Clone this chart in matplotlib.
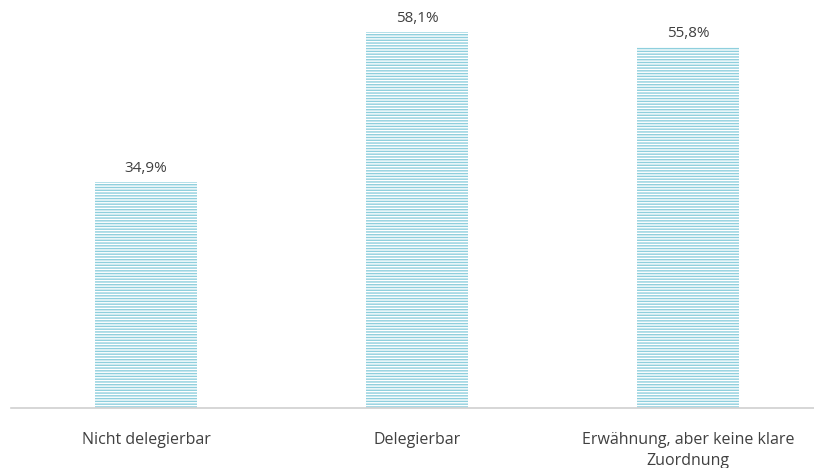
import matplotlib
matplotlib.use("Agg")
import matplotlib.pyplot as plt

categories = ["Nicht delegierbar", "Delegierbar", "Erwähnung, aber keine klare\nZuordnung"]
values = [34.9, 58.1, 55.8]
value_labels = ["34,9%", "58,1%", "55,8%"]

plt.rcParams["font.family"] = ["Open Sans", "DejaVu Sans"]
plt.rcParams["hatch.linewidth"] = 1.0

W, H = 814, 468
fig = plt.figure(figsize=(W / 100, H / 100), dpi=100)
ax = fig.add_axes([10.5 / W, 60 / H, 813 / W, 408 / H])

x = range(len(categories))
bars = ax.bar(x, values, width=0.376, color="white", edgecolor="#8ecfdd",
              hatch="------", linewidth=0)

for b, lab in zip(bars, value_labels):
    ax.text(b.get_x() + b.get_width() / 2, b.get_height() + 0.9, lab,
            ha="center", va="bottom", fontsize=11, color="#404040")

ax.set_xlim(-0.5, len(categories) - 0.5)
ax.set_ylim(0, 63)
ax.set_xticks(list(x))
ax.set_xticklabels(categories, fontsize=11.5, color="#404040", linespacing=1.45)
ax.tick_params(axis="x", length=0, pad=17)
ax.set_yticks([])
for s in ["top", "right", "left"]:
    ax.spines[s].set_visible(False)
ax.spines["bottom"].set_color("#d0d0d0")
ax.spines["bottom"].set_linewidth(1.2)

fig.savefig("out.png", dpi=100)
